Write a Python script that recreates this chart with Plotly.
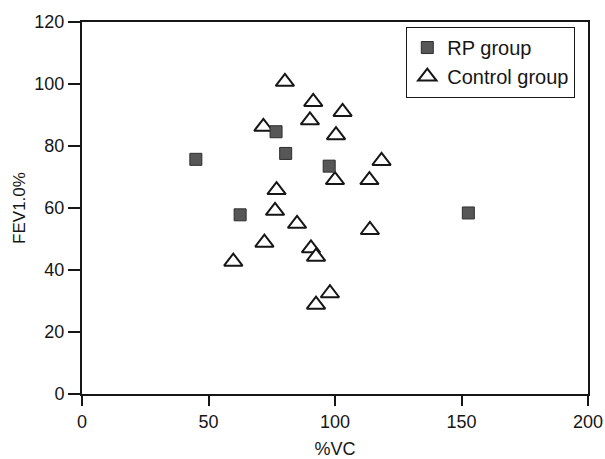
import plotly.graph_objects as go

rp_vc = [45, 62.5, 76.7, 80.5, 97.7, 152.7]
rp_fev = [75.7, 57.8, 84.6, 77.6, 73.5, 58.4]

ctrl_vc = [80.2, 71.7, 76.9, 76.3, 85.0, 72.1, 59.8, 91.4, 90.1, 103.0, 100.4,
           118.4, 100.0, 113.6, 113.8, 90.5, 92.5, 98.0, 92.5]
ctrl_fev = [100.7, 86.2, 65.8, 59.1, 54.9, 48.8, 42.7, 94.2, 88.3, 91.0, 83.5,
            75.2, 69.0, 69.0, 52.9, 47.0, 44.3, 32.5, 28.8]

x_ticks = [0, 50, 100, 150, 200]
y_ticks = [0, 20, 40, 60, 80, 100, 120]

FONT = "Liberation Sans, Arial, sans-serif"
INK = "#161616"

fig = go.Figure()
fig.add_trace(go.Scatter(
    x=ctrl_vc, y=ctrl_fev, mode="markers", name="Control group",
    marker=dict(symbol="triangle-up", size=16, color="white",
                line=dict(color=INK, width=2)),
    legendrank=2,
))
fig.add_trace(go.Scatter(
    x=rp_vc, y=rp_fev, mode="markers", name="RP group",
    marker=dict(symbol="square", size=12, color="#575757",
                line=dict(color="#2e2e2e", width=1)),
    legendrank=1,
))

axis_common = dict(
    showgrid=False, zeroline=False, showline=True, linecolor=INK, linewidth=2,
    mirror=True, ticks="outside", tickwidth=1.5, tickcolor=INK,
    tickfont=dict(family=FONT, size=18, color=INK), automargin=False,
)

fig.update_xaxes(range=[0, 200], tickvals=x_ticks,
                 ticktext=[str(v) for v in x_ticks], ticklen=10,
                 title=dict(text="%VC", font=dict(family=FONT, size=18, color=INK), standoff=12),
                 **axis_common)
fig.update_yaxes(range=[0, 120], tickvals=y_ticks,
                 ticktext=[str(v) for v in y_ticks], ticklen=12,
                 title=dict(text="FEV1.0%", font=dict(family=FONT, size=17, color=INK), standoff=4),
                 **axis_common)

fig.update_layout(
    width=605, height=459,
    margin=dict(l=82, r=17, t=22, b=65),
    paper_bgcolor="white", plot_bgcolor="white",
    font=dict(family=FONT, size=18, color=INK),
    legend=dict(x=0.9745, y=0.987, xanchor="right", yanchor="top",
                bordercolor=INK, borderwidth=1.2, bgcolor="white",
                font=dict(family=FONT, size=20, color=INK)),
    showlegend=True,
)

fig.write_html("out.html")
